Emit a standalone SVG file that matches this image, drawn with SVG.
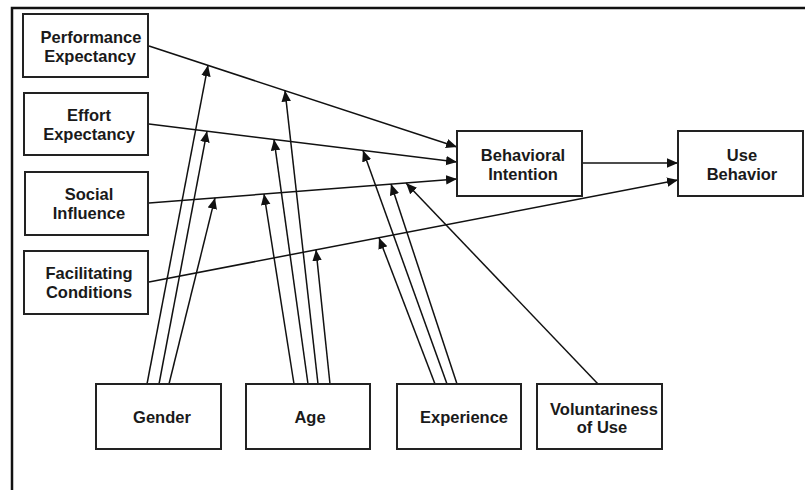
<svg xmlns="http://www.w3.org/2000/svg" width="805" height="490" viewBox="0 0 805 490">
<defs>
<marker id="ah" markerUnits="userSpaceOnUse" markerWidth="12" markerHeight="10" refX="11" refY="4.75" orient="auto" viewBox="0 0 12 10">
<path d="M0,0 L11,4.75 L0,9.5 z" fill="#111"/>
</marker>
</defs>
<style>
.box{fill:#fff;stroke:#222;stroke-width:2}
.lbl{font-family:"Liberation Sans",Arial,sans-serif;font-size:16.5px;font-weight:bold;fill:#1a1a1a;text-anchor:middle}
.c{fill:none;stroke:#111;stroke-width:1.5;marker-end:url(#ah)}
.frame{fill:none;stroke:#111;stroke-width:2.5}
</style>
<rect width="805" height="490" fill="#fff"/>
<path class="frame" d="M12,490 L12,8 L805,8"/>
<g id="connectors">
<line class="c" x1="149" y1="46" x2="457" y2="147"/>
<line class="c" x1="149" y1="124" x2="457" y2="162"/>
<line class="c" x1="149" y1="203" x2="457" y2="179"/>
<line class="c" x1="149" y1="282" x2="678" y2="180"/>
<line class="c" x1="582" y1="163" x2="678" y2="163"/>
<line class="c" x1="147" y1="384" x2="208" y2="65.3"/>
<line class="c" x1="159" y1="384" x2="207" y2="131.2"/>
<line class="c" x1="169" y1="384" x2="215" y2="197.9"/>
<line class="c" x1="294" y1="384" x2="264" y2="194"/>
<line class="c" x1="308" y1="384" x2="274" y2="139.4"/>
<line class="c" x1="318" y1="384" x2="285" y2="90.6"/>
<line class="c" x1="330" y1="384" x2="316" y2="249.8"/>
<line class="c" x1="435" y1="384" x2="379" y2="237.7"/>
<line class="c" x1="447" y1="384" x2="363" y2="150.4"/>
<line class="c" x1="457" y1="384" x2="391" y2="184.1"/>
<line class="c" x1="598" y1="384" x2="406" y2="183"/>
</g>
<g id="performance-expectancy">
<rect class="box" x="23" y="14" width="125" height="63"/>
<text class="lbl" x="91" y="43">Performance</text>
<text class="lbl" x="90" y="62">Expectancy</text>
</g>
<g id="effort-expectancy">
<rect class="box" x="24" y="93" width="124" height="62"/>
<text class="lbl" x="89" y="121">Effort</text>
<text class="lbl" x="89" y="140">Expectancy</text>
</g>
<g id="social-influence">
<rect class="box" x="25" y="172" width="123" height="63"/>
<text class="lbl" x="89" y="200">Social</text>
<text class="lbl" x="89" y="219">Influence</text>
</g>
<g id="facilitating-conditions">
<rect class="box" x="24" y="251" width="124" height="63"/>
<text class="lbl" x="89" y="279">Facilitating</text>
<text class="lbl" x="89" y="298">Conditions</text>
</g>
<g id="behavioral-intention">
<rect class="box" x="457" y="131" width="125" height="65"/>
<text class="lbl" x="523" y="161">Behavioral</text>
<text class="lbl" x="523" y="180">Intention</text>
</g>
<g id="use-behavior">
<rect class="box" x="678" y="131" width="125" height="65"/>
<text class="lbl" x="742" y="161">Use</text>
<text class="lbl" x="742" y="180">Behavior</text>
</g>
<g id="gender">
<rect class="box" x="96" y="384" width="125" height="65"/>
<text class="lbl" x="162" y="423">Gender</text>
</g>
<g id="age">
<rect class="box" x="246" y="384" width="124" height="65"/>
<text class="lbl" x="310" y="423">Age</text>
</g>
<g id="experience">
<rect class="box" x="397" y="384" width="124" height="65"/>
<text class="lbl" x="464" y="423">Experience</text>
</g>
<g id="voluntariness-of-use">
<rect class="box" x="537" y="384" width="125" height="65"/>
<text class="lbl" x="604" y="415">Voluntariness</text>
<text class="lbl" x="602" y="433">of Use</text>
</g>
</svg>
